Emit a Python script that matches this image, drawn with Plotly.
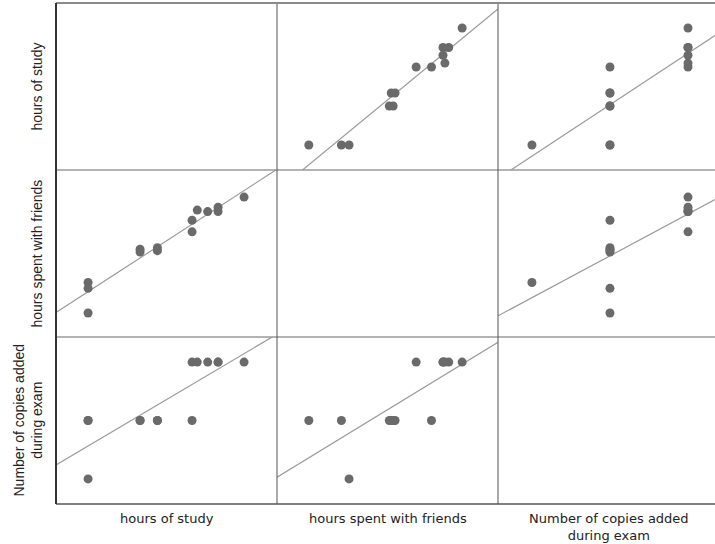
import numpy as np
import plotly.graph_objects as go

# ---- data ----
var_names = ["hours of study", "hours spent with friends", "Number of copies added<br>during exam"]
study = [1, 1, 1, 4, 4, 5, 5, 7, 7, 7.3, 7.9, 8.5, 8.5, 10]
friends = [3.1, 2.7, 1.0, 5.4, 5.2, 5.5, 5.3, 7.4, 6.6, 8.1, 8.0, 8.3, 8.0, 9.0]
copies = [1, 2, 2, 2, 2, 2, 2, 2, 3, 3, 3, 3, 3, 3]

data = [np.array(study, float), np.array(friends, float), np.array(copies, float)]
# axis ranges per variable (x-range for columns, y-range for rows)
x_ranges = [[-0.85, 11.9], [-0.66, 10.87], [0.565, 3.346]]
y_ranges = [[-0.92, 11.92], [-0.66, 10.87], [0.57, 3.43]]

W, H = 715, 544
ml, mr, mt, mb = 56, 0, 3, 40
pw = W - ml - mr
ph = H - mt - mb
colw = 221
col_edges = [0, colw / pw, 2 * colw / pw, 1.0]
row_edges = [1.0, 2 / 3, 1 / 3, 0.0]  # top to bottom

fig = go.Figure()
point_color = "#6a6a6a"
line_color = "#9a9a9a"

n = 0
for r in range(3):
    for c in range(3):
        n += 1
        xa = "x" if n == 1 else f"x{n}"
        ya = "y" if n == 1 else f"y{n}"
        fig.layout[("xaxis" if n == 1 else f"xaxis{n}")] = dict(
            domain=[col_edges[c], col_edges[c + 1]], range=x_ranges[c],
            showgrid=False, zeroline=False, showticklabels=False, showline=False,
            anchor=ya, fixedrange=True)
        fig.layout[("yaxis" if n == 1 else f"yaxis{n}")] = dict(
            domain=[row_edges[r + 1], row_edges[r]], range=y_ranges[r],
            showgrid=False, zeroline=False, showticklabels=False, showline=False,
            anchor=xa, fixedrange=True)
        if r == c:
            continue
        xv, yv = data[c], data[r]
        b, a = np.polyfit(xv, yv, 1)
        xl = np.array(x_ranges[c])
        fig.add_trace(go.Scatter(x=xl, y=a + b * xl, mode="lines",
                                 line=dict(color=line_color, width=1.2),
                                 xaxis=xa, yaxis=ya, hoverinfo="skip", showlegend=False))
        fig.add_trace(go.Scatter(x=xv, y=yv, mode="markers",
                                 marker=dict(color=point_color, size=9, line=dict(width=0)),
                                 xaxis=xa, yaxis=ya, showlegend=False, cliponaxis=True))

shapes = []
# horizontal inner lines
for yv in [1 / 3, 2 / 3]:
    shapes.append(dict(type="line", xref="paper", yref="paper", x0=0, x1=1, y0=yv, y1=yv,
                       line=dict(color="#9a9a9a", width=1.5)))
# vertical inner lines
for xv in col_edges[1:3]:
    shapes.append(dict(type="line", xref="paper", yref="paper", x0=xv, x1=xv, y0=0, y1=1,
                       line=dict(color="#555555", width=1)))
# top border
shapes.append(dict(type="line", xref="paper", yref="paper", x0=0, x1=1, y0=1, y1=1,
                   line=dict(color="#8a8a8a", width=2)))
# bottom border
shapes.append(dict(type="line", xref="paper", yref="paper", x0=0, x1=1, y0=0, y1=0,
                   line=dict(color="#555555", width=1.5)))
# left border
shapes.append(dict(type="line", xref="paper", yref="paper", x0=0, x1=0, y0=0, y1=1,
                   line=dict(color="#333333", width=2)))

annotations = []
# column titles below
col_full = colw / pw
for c, name in enumerate(var_names):
    xc = col_edges[c] + col_full / 2
    annotations.append(dict(text=name, xref="paper", yref="paper", x=xc, y=0,
                            xanchor="center", yanchor="top", yshift=-5, showarrow=False,
                            font=dict(family="DejaVu Sans", size=13, color="#222222")))
# row titles on the left (rotated)
for r, name in enumerate(var_names):
    yc = (row_edges[r] + row_edges[r + 1]) / 2
    annotations.append(dict(text=name, xref="paper", yref="paper", x=0, y=yc,
                            xanchor="right", yanchor="middle", xshift=-10, showarrow=False,
                            textangle=-90,
                            font=dict(family="Liberation Sans", size=14, color="#222222")))

fig.update_layout(width=W, height=H, margin=dict(l=ml, r=mr, t=mt, b=mb, pad=0),
                  paper_bgcolor="white", plot_bgcolor="white",
                  shapes=shapes, annotations=annotations, showlegend=False)

fig.write_html("out.html", config={"displayModeBar": False},
               post_script="document.body.style.margin='0px';document.body.style.overflow='hidden';")
